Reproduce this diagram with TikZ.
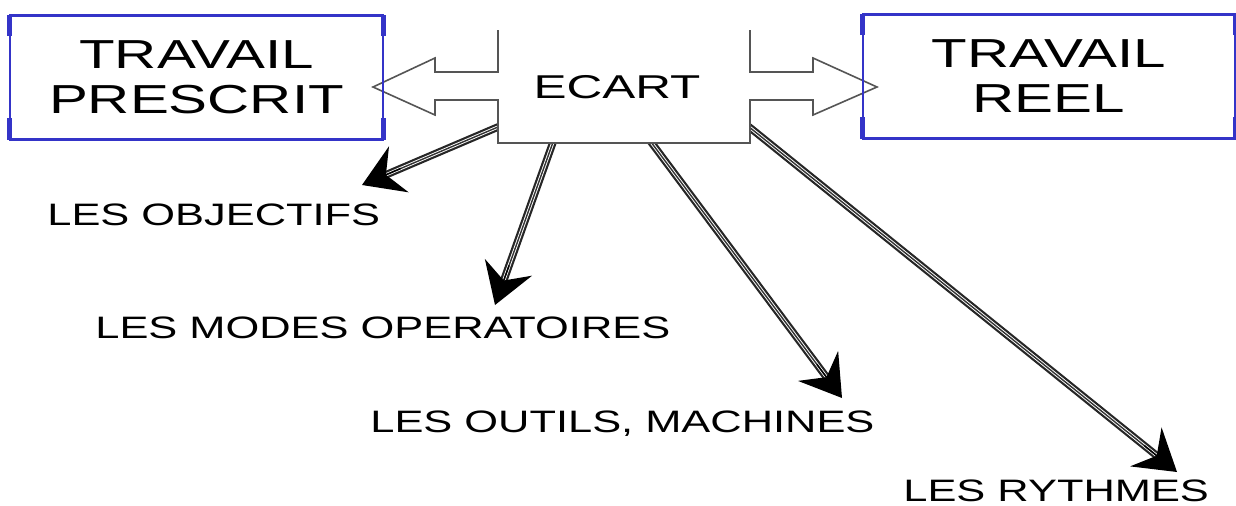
\documentclass[tikz,border=0pt]{standalone}
\usepackage{fontspec}
\setmainfont{Liberation Sans}
\usetikzlibrary{arrows.meta,calc}
\definecolor{boxblue}{RGB}{52,52,200}
\definecolor{shapegray}{RGB}{85,85,85}
\newcommand{\hs}[2]{\scalebox{#1}[1]{#2}}
\begin{document}
\begin{tikzpicture}[x=0.5pt,y=-0.5pt,
  titlebox/.style={draw=boxblue, line width=0.6pt, inner sep=0pt, align=center,
    font=\fontsize{20.25pt}{22.5pt}\selectfont},
  lab/.style={anchor=base west, inner sep=0pt, font=\fontsize{15.5pt}{18pt}\selectfont},
  shaft/.style={draw=black!85, line width=1.1pt, double=white, double distance=1.6pt, shorten >=11pt},
  shaftmid/.style={draw=black!80, line width=0.7pt, shorten >=11pt},
  tiphead/.style={draw=black, fill=black, line width=0.7pt, -{Stealth[length=20pt,width=25pt,inset=7pt]}},
  bracket/.style={draw=boxblue, line width=2.4pt},
  boxedge/.style={draw=boxblue, line width=1.6pt},
  ecartline/.style={draw=shapegray, line width=0.8pt, line join=miter}]
\useasboundingbox (0,0) rectangle (1236,505);

% connector ends
\coordinate (s1) at (505,124);
\coordinate (s2) at (554.5,138);
\coordinate (s3) at (648,138);
\coordinate (s4) at (738,118);
\coordinate (t1) at (362,185);
\coordinate (t2) at (495,305);
\coordinate (t3) at (842,398);
\coordinate (t4) at (1177,472);

% shafts and heads
\foreach \i in {1,2,3,4}{
  \draw[shaft] (s\i) -- (t\i);
  \draw[shaftmid] (s\i) -- (t\i);
  \draw[tiphead] ($(t\i)!21pt!(s\i)$) -- (t\i);
}

% ECART double arrow shape
\fill[white] (498,30) -- (498,72) -- (435,72) -- (435,58) -- (373,87) -- (435,115) -- (435,100)
  -- (498,100) -- (498,143) -- (750,143) -- (750,100) -- (813,100) -- (813,115) -- (877,87)
  -- (813,58) -- (813,72) -- (750,72) -- (750,30) -- cycle;
\draw[ecartline] (498,30) -- (498,72) -- (435,72) -- (435,58) -- (373,87) -- (435,115) -- (435,100)
  -- (498,100) -- (498,143) -- (750,143) -- (750,100) -- (813,100) -- (813,115) -- (877,87)
  -- (813,58) -- (813,72) -- (750,72) -- (750,30);
\node[anchor=base, inner sep=0pt, font=\fontsize{16.5pt}{19pt}\selectfont] (ecart) at (617,98) {\hs{1.5}{ECART}};

% title boxes
\node[titlebox, minimum width=186.5pt, minimum height=61.5pt] (pres) at (196.5,77.5)
  {\hs{1.44}{TRAVAIL}\\\hs{1.44}{PRESCRIT}};
\node[titlebox, minimum width=186pt, minimum height=61.5pt] (reel) at (1049,76.5)
  {\hs{1.44}{TRAVAIL}\\\hs{1.44}{REEL}};
\foreach \n in {pres,reel}{
  \draw[boxedge] (\n.north west) -- (\n.north east);
  \draw[boxedge] (\n.south west) -- (\n.south east);
  \draw[bracket] (\n.north west) -- ++(0,21);
  \draw[bracket] (\n.north east) -- ++(0,21);
  \draw[bracket] (\n.south west) -- ++(0,-22);
  \draw[bracket] (\n.south east) -- ++(0,-22);
}

% labels
\node[lab] (obj) at (47,225) {\hs{1.4}{LES OBJECTIFS}};
\node[lab] (modes) at (95,338) {\hs{1.4}{LES MODES OPERATOIRES}};
\node[lab] (outils) at (370,432) {\hs{1.4}{LES OUTILS, MACHINES}};
\node[lab] (rythmes) at (903,501) {\hs{1.4}{LES RYTHMES}};
\end{tikzpicture}
\end{document}
